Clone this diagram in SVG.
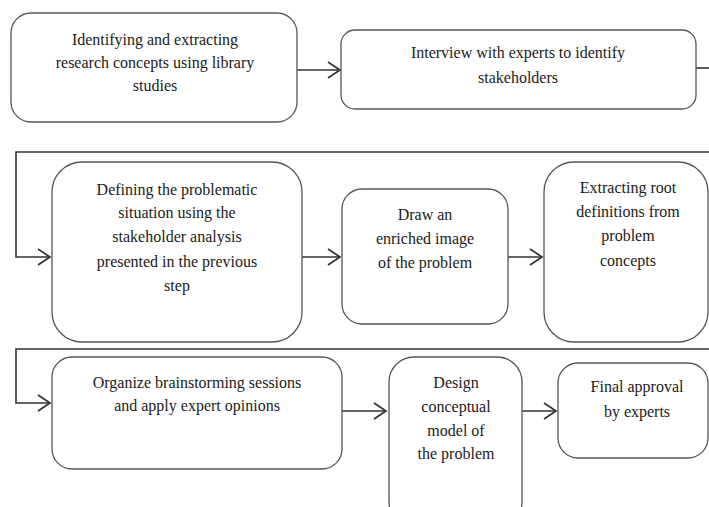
<svg xmlns="http://www.w3.org/2000/svg" width="709" height="507" viewBox="0 0 709 507">
<style>
.box{fill:#fff;stroke:#555;stroke-width:1.3}
text{font-family:'Liberation Serif','Times New Roman','DejaVu Serif',serif;font-size:16px;fill:#1a1a1a;text-anchor:middle}
.c{fill:none;stroke:#333;stroke-width:1.6}
</style>
<defs>
<marker id="ah" markerUnits="userSpaceOnUse" markerWidth="16" markerHeight="20" refX="13" refY="9" orient="auto">
<path d="M1,1 L13,9 L1,17" fill="none" stroke="#333" stroke-width="1.7"/>
</marker>
</defs>
<rect width="709" height="507" fill="#fff"/>
<g id="connectors">
<path class="c" d="M297,70 H340" marker-end="url(#ah)"/>
<path class="c" d="M696,68 H709"/>
<path class="c" d="M709,152 H16 V257 H50" marker-end="url(#ah)"/>
<path class="c" d="M302,257 H340" marker-end="url(#ah)"/>
<path class="c" d="M508,257 H542" marker-end="url(#ah)"/>
<path class="c" d="M709,349 H16 V403 H50" marker-end="url(#ah)"/>
<path class="c" d="M342,411 H386" marker-end="url(#ah)"/>
<path class="c" d="M522,411 H556" marker-end="url(#ah)"/>
</g>
<g id="n1">
<rect class="box" x="11" y="13" width="286" height="109" rx="20"/>
<text x="155" y="45">Identifying and extracting</text>
<text x="155" y="68">research concepts using library</text>
<text x="155" y="91">studies</text>
</g>
<g id="n2">
<rect class="box" x="341" y="30" width="355" height="79" rx="14"/>
<text x="518" y="58">Interview with experts to identify</text>
<text x="518" y="83">stakeholders</text>
</g>
<g id="n3">
<rect class="box" x="52" y="162" width="250" height="180" rx="30"/>
<text x="177" y="195">Defining the problematic</text>
<text x="177" y="218">situation using the</text>
<text x="177" y="242">stakeholder analysis</text>
<text x="177" y="267">presented in the previous</text>
<text x="177" y="291">step</text>
</g>
<g id="n4">
<rect class="box" x="342" y="189" width="166" height="135" rx="20"/>
<text x="425" y="220">Draw an</text>
<text x="425" y="244">enriched image</text>
<text x="425" y="268">of the problem</text>
</g>
<g id="n5">
<rect class="box" x="544" y="162" width="164" height="180" rx="30"/>
<text x="628" y="193">Extracting root</text>
<text x="628" y="217">definitions from</text>
<text x="628" y="241">problem</text>
<text x="628" y="266">concepts</text>
</g>
<g id="n6">
<rect class="box" x="52" y="357" width="290" height="112" rx="20"/>
<text x="197" y="388">Organize brainstorming sessions</text>
<text x="197" y="411">and apply expert opinions</text>
</g>
<g id="n7">
<rect class="box" x="389" y="357" width="133" height="170" rx="25"/>
<text x="456" y="388">Design</text>
<text x="456" y="412">conceptual</text>
<text x="456" y="436">model of</text>
<text x="456" y="459">the problem</text>
</g>
<g id="n8">
<rect class="box" x="558" y="363" width="150" height="95" rx="20"/>
<text x="637" y="392">Final approval</text>
<text x="637" y="417">by experts</text>
</g>
</svg>
